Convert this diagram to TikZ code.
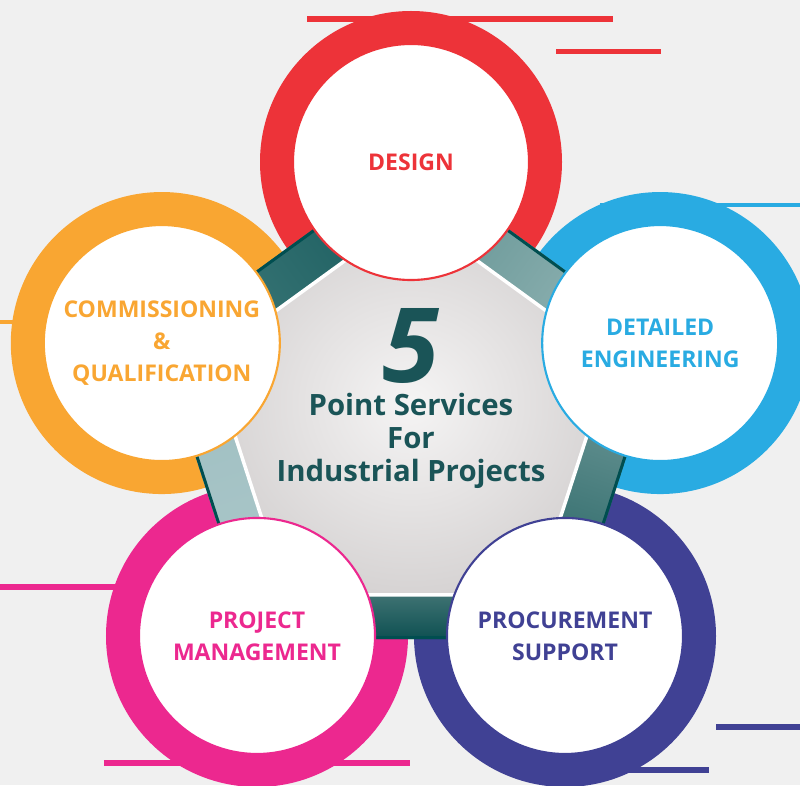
\documentclass[tikz,border=0pt]{standalone}
\usepackage{fontspec}
\setmainfont{Open Sans}
\usetikzlibrary{shapes,positioning,calc}

\definecolor{fondo}{RGB}{240,240,240}
\definecolor{rojo}{RGB}{237,51,57}
\definecolor{azul}{RGB}{41,171,226}
\definecolor{morado}{RGB}{64,65,148}
\definecolor{rosa}{RGB}{236,40,143}
\definecolor{naranja}{RGB}{249,166,50}
\definecolor{verdeazul}{RGB}{26,84,87}
\definecolor{bordeoscuro}{RGB}{0,78,80}
\definecolor{grisclaro}{RGB}{245,244,244}
\definecolor{grisoscuro}{RGB}{214,211,211}

\begin{document}
\begin{tikzpicture}
  % Definir estilos
  \tikzstyle{servicio}=[circle, fill=white, line width=1.2pt, minimum size=4.72cm, inner sep=0pt, align=center, font=\fontsize{13.1}{18.4}\selectfont\bfseries]
  \tikzstyle{raya}=[line width=0.12cm]
  \tikzstyle{bordebarra}=[line width=0.06cm, bordeoscuro]
  \tikzstyle{pentagono}=[draw=white, line width=0.07cm, inner color=grisclaro, outer color=grisoscuro]
  \tikzstyle{titulo}=[text=verdeazul, align=center, inner sep=0pt, font=\fontsize{16.7}{18.8}\selectfont\bfseries]
  \tikzstyle{cinco}=[text=verdeazul, inner sep=0pt, text depth=0pt, font=\fontsize{59}{60}\selectfont\bfseries\itshape]

  % Fondo
  \useasboundingbox[fill=fondo] (-8.22,-7.22) rectangle (7.78,8.48);
  \clip (-8.22,-7.22) rectangle (7.78,8.48);

  % Centros de los circulos
  \coordinate (pDis) at (90:5.24);
  \coordinate (pIng) at (18:5.24);
  \coordinate (pCom) at (-54:5.24);
  \coordinate (pGes) at (234:5.24);
  \coordinate (pPue) at (162:5.24);

  % Rayas decorativas
  \draw[raya, rojo] (-2.08,8.10) -- (4.04,8.10);
  \draw[raya, rojo, line width=0.1cm] (2.90,7.45) -- (5.00,7.45);
  \draw[raya, azul, line width=0.09cm] (3.78,4.38) -- (7.78,4.38);
  \draw[raya, naranja, line width=0.08cm] (-8.22,2.05) -- (-7.6,2.05);
  \draw[raya, rosa] (-8.22,-3.26) -- (-5.5,-3.26);
  \draw[raya, rosa] (-6.14,-6.78) -- (-0.02,-6.78);
  \draw[raya, morado] (6.10,-6.06) -- (7.78,-6.06);
  \draw[raya, morado] (4.32,-6.92) -- (5.96,-6.92);

  % Anillos de color
  \fill[rojo] (pDis) circle (3.02);
  \fill[azul] (pIng) circle (3.02);
  \fill[morado] (pCom) circle (3.02);
  \fill[rosa] (pGes) circle (3.02);
  \fill[naranja] (pPue) circle (3.02);

  % Barras entre circulos
  \shade[top color={rgb,255:red,100;green,148;blue,148}, bottom color={rgb,255:red,150;green,183;blue,183}, shading angle=54]
    (90:4.227) -- (18:4.227) -- (18:5.315) -- (90:5.315) -- cycle;
  \shade[top color={rgb,255:red,118;green,158;blue,158}, bottom color={rgb,255:red,32;green,96;blue,96}, shading angle=-18]
    (18:4.227) -- (-54:4.227) -- (-54:5.315) -- (18:5.315) -- cycle;
  \shade[top color={rgb,255:red,62;green,114;blue,114}, bottom color={rgb,255:red,14;green,80;blue,82}]
    (-54:4.227) -- (234:4.227) -- (234:5.315) -- (-54:5.315) -- cycle;
  \shade[top color={rgb,255:red,158;green,190;blue,193}, bottom color={rgb,255:red,172;green,200;blue,202}, shading angle=18]
    (234:4.227) -- (162:4.227) -- (162:5.315) -- (234:5.315) -- cycle;
  \shade[top color={rgb,255:red,26;green,92;blue,94}, bottom color={rgb,255:red,62;green,122;blue,122}, shading angle=-54]
    (162:4.227) -- (90:4.227) -- (90:5.315) -- (162:5.315) -- cycle;
  \draw[bordebarra] (90:5.28) -- (18:5.28) -- (-54:5.28) -- (234:5.28) -- (162:5.28) -- cycle;

  % Pentagono central
  \draw[pentagono] (90:4.227) -- (162:4.227) -- (234:4.227) -- (306:4.227) -- (18:4.227) -- cycle;

  % Circulos blancos
  \node[servicio, draw=rojo, text=rojo] (diseno) at (pDis) {DESIGN};
  \node[servicio, draw=azul, text=azul] (ingenieria) at (pIng) {DETAILED\\ENGINEERING};
  \node[servicio, draw=morado, text=morado] (compras) at (pCom) {PROCUREMENT\\SUPPORT};
  \node[servicio, draw=rosa, text=rosa] (gestion) at (pGes) {PROJECT\\MANAGEMENT};
  \node[servicio, draw=naranja, text=naranja] (puesta) at (pPue) {COMMISSIONING\\\&\\QUALIFICATION};

  % Texto central
  \node[cinco, anchor=base] (cinco) at (0,0.84) {5};
  \node[titulo] (lema) at (0,-0.34) {Point Services\\For\\Industrial Projects};
\end{tikzpicture}
\end{document}
